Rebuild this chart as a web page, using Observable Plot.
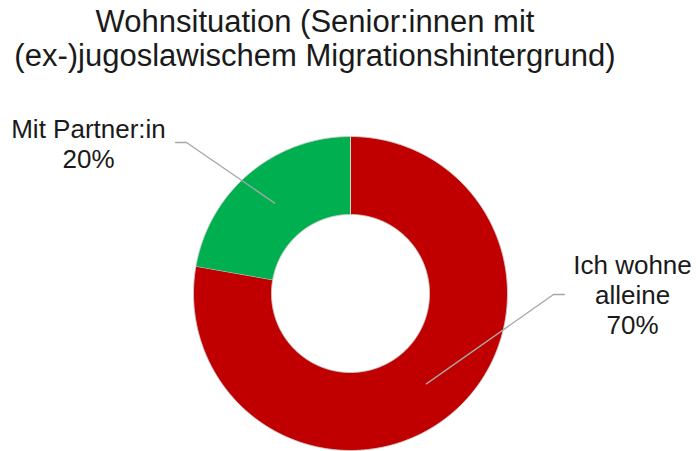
<!DOCTYPE html>
<html>
<head>
<meta charset="utf-8">
<script src="https://cdn.jsdelivr.net/npm/d3@7"></script>
<script src="https://cdn.jsdelivr.net/npm/@observablehq/plot@0.6"></script>
<style>
  html, body { margin: 0; padding: 0; background: #fff; }
  #wrap { position: relative; width: 696px; height: 451px; overflow: hidden; }
  #title {
    position: absolute; left: 0; top: 0; width: 630px; height: 80px;
    box-sizing: border-box; padding-top: 5px;
    text-align: center; white-space: nowrap;
    font-family: "Liberation Sans", Arial, sans-serif; font-size: 31px; line-height: 34px;
    color: #1a1a1a;
  }
  #chart { position: absolute; left: 0; top: 80px; }
</style>
</head>
<body>
<div id="wrap">
  <div id="title">Wohnsituation (Senior:innen mit<br>(ex-)jugoslawischem Migrationshintergrund)</div>
  <div id="chart"></div>
</div>
<script>
// ---- data ----
const categories = ["Ich wohne\nalleine", "Mit Partner:in"];
const values = [70, 20];
const percentLabels = ["70%", "20%"];

// ---- layout (pixels inside the SVG) ----
const W = 696, H = 371;
const cx = 350, cy = 213, R = 157, r0 = 79;
const labelLayout = [
  {tx: 632, ty: 253, ex: 553, ey: 214, hx: 564}, // Ich wohne alleine
  {tx: 88,  ty: 87,  ex: 186, ey: 62,  hx: 175}  // Mit Partner:in
];

const pie = d3.pie().sort(null).value(d => d.value);
const arcs = pie(categories.map((c, i) => ({key: c, value: values[i]})));

const toXY = (rad, a) => ({x: cx + rad * Math.sin(a), y: cy - rad * Math.cos(a)});

// ring polygons for each slice
const ringPts = [];
arcs.forEach(a => {
  const n = Math.max(2, Math.ceil((a.endAngle - a.startAngle) / (Math.PI / 720)));
  for (let k = 0; k <= n; k++) {
    const t = a.startAngle + (a.endAngle - a.startAngle) * k / n;
    ringPts.push({key: a.data.key, ...toXY(R, t)});
  }
  for (let k = n; k >= 0; k--) {
    const t = a.startAngle + (a.endAngle - a.startAngle) * k / n;
    ringPts.push({key: a.data.key, ...toXY(r0, t)});
  }
});

// leader lines
const leaderPts = [];
arcs.forEach((a, i) => {
  const mid = (a.startAngle + a.endAngle) / 2;
  const L = labelLayout[i];
  leaderPts.push({key: a.data.key, ...toXY((R + r0) / 2, mid)});
  leaderPts.push({key: a.data.key, x: L.ex, y: L.ey});
  leaderPts.push({key: a.data.key, x: L.hx, y: L.ey});
});

const labels = arcs.map((a, i) => ({
  key: a.data.key,
  text: a.data.key + "\n" + percentLabels[i],
  x: labelLayout[i].tx, y: labelLayout[i].ty
}));

const chart = Plot.plot({
  width: W, height: H, margin: 0,
  style: {background: "#fff"},
  x: {domain: [0, W], range: [0, W], axis: null},
  y: {domain: [0, H], range: [0, H], axis: null},
  color: {domain: categories, range: ["#c00000", "#00b050"]},
  marks: [
    Plot.line(ringPts, {x: "x", y: "y", z: "key", fill: "key", stroke: "#d2d2d2", strokeWidth: 1, curve: "linear"}),
    Plot.line(leaderPts, {x: "x", y: "y", z: "key", stroke: "#a6a6a6", strokeWidth: 1.3, curve: "linear"}),
    Plot.text(labels, {x: "x", y: "y", text: "text", lineAnchor: "bottom", textAnchor: "middle",
      fontSize: 26, lineHeight: 1.14, fontFamily: "Liberation Sans, Arial, sans-serif", fill: "#1a1a1a"})
  ]
});
document.getElementById("chart").appendChild(chart);
</script>
</body>
</html>
